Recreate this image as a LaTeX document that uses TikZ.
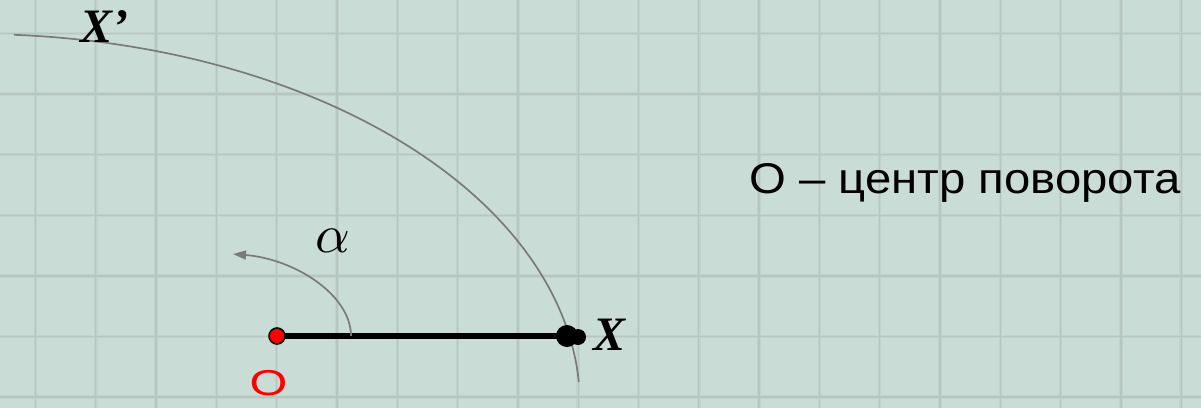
\documentclass[tikz,border=0pt]{standalone}
\usepackage{fontspec}
\setmainfont{Liberation Sans}
\newfontfamily\serifX{Liberation Serif}
\usetikzlibrary{arrows.meta}
\definecolor{bg}{RGB}{201,221,214}
\definecolor{gridhalo}{RGB}{194,211,205}
\definecolor{gridc}{RGB}{183,198,193}
\definecolor{arcgray}{RGB}{122,122,122}
\tikzset{
  gridhalo/.style={draw=gridhalo, line width=3.5pt},
  gridline/.style={draw=gridc, line width=1.3pt},
  arcline/.style={draw=arcgray, line width=1.7pt},
  dotnode/.style={circle, inner sep=0pt, fill=black},
  bigtext/.style={inner sep=0pt, font=\fontsize{43}{50}\selectfont},
  xlabel/.style={inner sep=0pt, font=\serifX\bfseries\itshape\fontsize{48}{56}\selectfont},
}
\begin{document}
\begin{tikzpicture}[x=1pt,y=-1pt]
\fill[bg] (0,0) rectangle (1201,408);
\useasboundingbox (0,0) rectangle (1201,408);
% grid
\foreach \i in {0,...,19} {
  \draw[gridhalo] ({35.5+60.3*\i},0) -- ++(0,408);
}
\foreach \j in {0,...,6} {
  \draw[gridhalo] (0,{33.5+60.6*\j}) -- ++(1201,0);
}
\foreach \i in {0,...,19} {
  \draw[gridline] ({35.5+60.3*\i},0) -- ++(0,408);
}
\foreach \j in {0,...,6} {
  \draw[gridline] (0,{33.5+60.6*\j}) -- ++(1201,0);
}
% trajectory arc of X
\draw[arcline] plot[domain=3.55:86.3, samples=120, variable=\t]
  ({-25+605*cos(\t)},{405-371*sin(\t)});
% positions
\coordinate (Oc) at (277,336);
\coordinate (Xc) at (567,336);
\coordinate (Ac) at (351,336);
\coordinate (At) at (233,254);
% segment OX
\draw[line width=5.5pt] (Oc) -- (Xc);
% rotation arrow
\draw[arcline, -{Triangle[length=13pt,width=9pt]}] (Ac) .. controls (351,295) and (295,259) .. (At);
% points
\node[dotnode, minimum size=22pt] (X) at (Xc) {};
\node[dotnode, minimum size=16pt] (X2) at (578,337) {};
\node[circle, inner sep=0pt, fill=red, draw=black, line width=1.6pt, minimum size=16pt] (O) at (Oc) {};
% labels
\node[xlabel, anchor=base west] (Xl) at (593,350) {X};
\node[xlabel, anchor=base west] (Xpl) at (80,42) {X’};
\node[inner sep=0pt, scale=5.4] (alpha) at (333,241) {$\alpha$};
\node[inner sep=0pt, anchor=base, text=red, xscale=1.35, font=\fontsize{36}{42}\selectfont] (Ol) at (268.5,395) {O};
\node[bigtext, anchor=base west, xscale=1.1] (txt) at (749,193) {О – центр поворота};
\end{tikzpicture}
\end{document}
